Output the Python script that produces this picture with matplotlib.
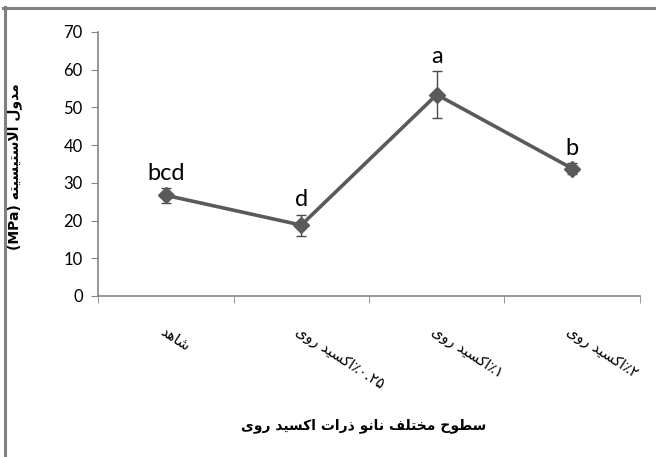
import matplotlib
matplotlib.use('Agg')
import matplotlib.pyplot as plt
from matplotlib.lines import Line2D

# data
groups = ['شاهد', '٪۰.۲۵', '٪۱', '٪۲']
values = [26.7, 18.8, 53.4, 33.8]
errors = [2.0, 2.8, 6.3, 1.5]
letters = ['bcd', 'd', 'a', 'b']
y_ticks = [0, 10, 20, 30, 40, 50, 60, 70]

# minimal arabic shaping (matplotlib has no complex text layout)
# isolated, final, initial, medial
FORMS = {
    'ا': ('\uFE8D', '\uFE8E', None, None),
    'ت': ('\uFE95', '\uFE96', '\uFE97', '\uFE98'),
    'ح': ('\uFEA1', '\uFEA2', '\uFEA3', '\uFEA4'),
    'خ': ('\uFEA5', '\uFEA6', '\uFEA7', '\uFEA8'),
    'د': ('\uFEA9', '\uFEAA', None, None),
    'ذ': ('\uFEAB', '\uFEAC', None, None),
    'ر': ('\uFEAD', '\uFEAE', None, None),
    'س': ('\uFEB1', '\uFEB2', '\uFEB3', '\uFEB4'),
    'ش': ('\uFEB5', '\uFEB6', '\uFEB7', '\uFEB8'),
    'ط': ('\uFEC1', '\uFEC2', '\uFEC3', '\uFEC4'),
    'ف': ('\uFED1', '\uFED2', '\uFED3', '\uFED4'),
    'ل': ('\uFEDD', '\uFEDE', '\uFEDF', '\uFEE0'),
    'م': ('\uFEE1', '\uFEE2', '\uFEE3', '\uFEE4'),
    'ن': ('\uFEE5', '\uFEE6', '\uFEE7', '\uFEE8'),
    'ه': ('\uFEE9', '\uFEEA', '\uFEEB', '\uFEEC'),
    'و': ('\uFEED', '\uFEEE', None, None),
    'ی': ('\uFBFC', '\uFBFD', '\uFBFE', '\uFBFF'),
    'ک': ('\uFB8E', '\uFB8F', '\uFB90', '\uFB91'),
}


def shape(text):
    out = []
    i = 0
    while i < len(text):
        c = text[i]
        if c not in FORMS:
            out.append(c)
            i += 1
            continue
        prev = text[i-1] if i > 0 else None
        join_prev = prev in FORMS and FORMS[prev][2] is not None
        if c == 'ل' and i + 1 < len(text) and text[i+1] == 'ا':
            out.append('\uFEFC' if join_prev else '\uFEFB')
            i += 2
            continue
        nxt = text[i+1] if i + 1 < len(text) else None
        join_next = FORMS[c][2] is not None and nxt in FORMS
        iso, fin, ini, med = FORMS[c]
        if join_prev and join_next:
            out.append(med)
        elif join_prev:
            out.append(fin)
        elif join_next:
            out.append(ini)
        else:
            out.append(iso)
        i += 1
    return ''.join(reversed(out))


zno = shape('اکسید روی')
tick_labels = [shape(groups[0])] + [zno + g for g in groups[1:]]
xlabel = shape('سطوح مختلف نانو ذرات اکسید روی')
ylabel = '(MPa) ' + shape('مدول الاستیسیته')

fig = plt.figure(figsize=(6.56, 4.57), dpi=100)
ax = fig.add_axes([0.1494, 0.3523, 0.8262, 0.5777])

x = list(range(1, len(values) + 1))
ax.errorbar(x, values, yerr=errors, color='#5a5a5a', lw=2.6, marker='D',
            ms=8, ecolor='#4a4a4a', elinewidth=1, capsize=3.5, capthick=1, zorder=3)

for xi, v, e, t in zip(x, values, errors, letters):
    ax.annotate(t, (xi, v + e), xytext=(0, 3), textcoords='offset points',
                ha='center', va='bottom', fontsize=17, family='Lato')

ax.set_xlim(0.5, len(values) + 0.5)
ax.set_ylim(0, 70)
ax.set_yticks(y_ticks)
ax.set_yticklabels([str(t) for t in y_ticks], family='Lato', fontsize=12)

ax.set_xticks(x)
ax.set_xticklabels(tick_labels, rotation=-33, ha='left', va='top',
                   rotation_mode='anchor', family='DejaVu Sans', fontsize=10.5)
ax.set_xticks([i + 0.5 for i in range(len(values) + 1)], minor=True)
ax.tick_params(axis='x', which='major', length=0, pad=20)
ax.tick_params(axis='x', which='minor', length=5, color='#868686')
ax.tick_params(axis='y', length=5, color='#868686', pad=6)

for s in ['top', 'right']:
    ax.spines[s].set_visible(False)
for s in ['left', 'bottom']:
    ax.spines[s].set_color('#868686')
    ax.spines[s].set_linewidth(1.2)

ax.set_xlabel(xlabel, fontsize=10, fontweight='bold', family='DejaVu Sans')
ax.xaxis.set_label_coords(0.49, -0.462)
ax.set_ylabel(ylabel, fontsize=10, fontweight='bold', family='DejaVu Sans')
ax.yaxis.set_label_coords(-0.14, 0.49)

# frame lines at top and left of the image
fig.add_artist(Line2D([0.005, 1], [0.983, 0.983], color='#808080', lw=2.2))
fig.add_artist(Line2D([0.0075, 0.0075], [0, 0.985], color='#808080', lw=2.2))

fig.savefig('out.png', dpi=100)
